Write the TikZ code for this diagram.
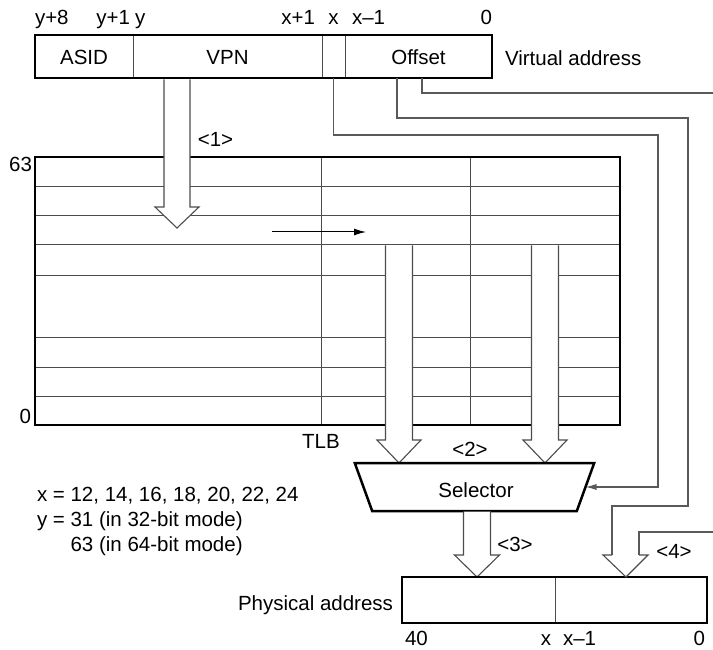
\documentclass[tikz,border=0pt]{standalone}
\usepackage{fontspec}
\setmainfont{Liberation Sans}
\usetikzlibrary{shapes.geometric,arrows.meta,calc}
\newcommand{\harr}[5]{%
  \path[harrow] ($(#1 -| #2)+(-#3,0)$) -- ($(#2)+(-#3,-#5)$) -- ($(#2)+(-#4,-#5)$) -- (#2)
    -- ($(#2)+(#4,-#5)$) -- ($(#2)+(#3,-#5)$) -- ($(#1 -| #2)+(#3,0)$);}
\begin{document}
\begin{tikzpicture}[x=1pt,y=-1pt,
  every node/.style={font=\fontsize{20.5}{25}\selectfont, inner sep=0pt, outer sep=0pt},
  thickbox/.style={draw=black, line width=2.5pt},
  field/.style={draw=black!70, line width=1pt, minimum height=43pt},
  gridline/.style={draw=black!70, line width=1pt},
  conn/.style={draw=black!65, line width=1.1pt},
  harrow/.style={draw=black!70, line width=1.1pt, fill=white, line join=miter}]
\useasboundingbox (0,0) rectangle (713,650);

% ---------- Virtual address ----------
\node[field, minimum width=98pt]  (asid) at (84,56.5)    {};
\node[field, minimum width=189pt] (vpn)  at (227.5,56.5) {};
\node[field, minimum width=23pt]  (xbit) at (333.5,56.5) {};
\node[field, minimum width=147pt] (off)  at (418.5,56.5) {};
\node[thickbox, minimum width=457pt, minimum height=43pt] (va) at (263.5,56.5) {};
\node[anchor=base] (tasid) at (asid.center |- 0,65) {ASID};
\node[anchor=base] (tvpn)  at (vpn.center |- 0,65)  {VPN};
\node[anchor=base] (toff)  at (off.center |- 0,65)  {Offset};
\node[anchor=base west] (vlab) at (505,66) {Virtual address};

\node[anchor=base west] (ly8) at (35,25)  {y+8};
\node[anchor=base east] (ly1) at (130,25) {y+1};
\node[anchor=base west] (ly)  at (135,25) {y};
\node[anchor=base east] (lx1) at (315,25) {x+1};
\node[anchor=base]      (lx)  at (333.5,25) {x};
\node[anchor=base west] (lxm) at (352,25) {x–1};
\node[anchor=base east] (l0)  at (492,25) {0};

% ---------- TLB ----------
\foreach \yy in {187,216,245,275,337,367,396}
  \draw[gridline] (35,\yy) -- (620,\yy);
\foreach \xx in {321,470}
  \draw[gridline] (\xx,157) -- (\xx,425);
\node[thickbox, minimum width=585pt, minimum height=268pt] (tlb) at (327.5,291) {};
\node[anchor=base east] (t63) at (32,172) {63};
\node[anchor=base east] (t0)  at (31,423) {0};
\node[anchor=base] (tlbl) at (321,448) {TLB};

\coordinate (hs) at (272,232);
\coordinate (he) at (366,232);
\draw[line width=1pt, -{Latex[length=12pt,width=7pt]}] (hs) -- (he);

% ---------- hollow arrows ----------
\coordinate (a1top) at (177,79.5);
\coordinate (a1tip) at (177,228);
\harr{a1top}{a1tip}{13}{22}{21}
\node[anchor=base] (n1) at (215.5,147) {<1>};

\coordinate (rowsel) at (0,245.5);
\coordinate (a2tip) at (399,463);
\coordinate (a2btip) at (545,463);
\harr{rowsel}{a2tip}{13.5}{22}{23}
\harr{rowsel}{a2btip}{13.5}{22}{23}
\node[anchor=base] (n2) at (470,456) {<2>};

% ---------- Selector ----------
\node[trapezium, trapezium angle=67, shape border rotate=180, trapezium stretches=true,
      minimum width=241pt, minimum height=48pt, thickbox, fill=white] (sel) at (474.5,487) {\phantom{Selector}};
\node[anchor=base] (tsel) at (476,497) {Selector};

\coordinate (a3top) at (477,511.5);
\coordinate (a3tip) at (477,577);
\harr{a3top}{a3tip}{13.5}{22.5}{22}
\node[anchor=base] (n3) at (515,551) {<3>};

% ---------- Physical address ----------
\node[field, minimum width=153pt, minimum height=46pt] (pahi) at (478.5,600) {};
\node[field, minimum width=152pt, minimum height=46pt] (palo) at (631,600) {};
\node[thickbox, minimum width=305pt, minimum height=46pt] (pa) at (554.5,600) {};
\node[anchor=base east] (plab) at (393,610) {Physical address};
\node[anchor=base west] (b40) at (405,645) {40};
\node[anchor=base east] (bx)  at (551,645) {x};
\node[anchor=base west] (bxm) at (563,645) {x–1};
\node[anchor=base east] (b0)  at (705,645) {0};

% ---------- connectors ----------
\coordinate (c1) at (658,135);
\draw[conn, -{Latex[length=11pt,width=6pt]}] (xbit.south) |- (c1) |- (sel.east);

\coordinate (off1) at (397,78);
\coordinate (c2) at (688,118);
\coordinate (c2b) at (688,506);
\coordinate (a4l) at (612,555);
\coordinate (a4r) at (639,555);
\coordinate (a4tip) at (626,577);
\draw[conn] (off1) |- (c2) -- (c2b) -| (a4l);

\coordinate (off2) at (422,78);
\coordinate (e3) at (713,93);
\draw[conn] (off2) |- (e3);

\coordinate (e4) at (713,532);
\draw[conn] (e4) -| (a4r);
\draw[harrow, fill=none] (a4l) -- ($(a4l)+(-9,0)$) -- (a4tip) -- ($(a4r)+(9,0)$) -- (a4r);
\node[anchor=base] (n4) at (674,558) {<4>};

% ---------- notes ----------
\node[anchor=base west] (nx) at (37,501.7) {x = 12, 14, 16, 18, 20, 22, 24};
\node[anchor=base west] (ny) at (37,526.7) {y = 31 (in 32-bit mode)};
\node[anchor=base west] (ny2) at (70.6,551.7) {63 (in 64-bit mode)};
\end{tikzpicture}
\end{document}
